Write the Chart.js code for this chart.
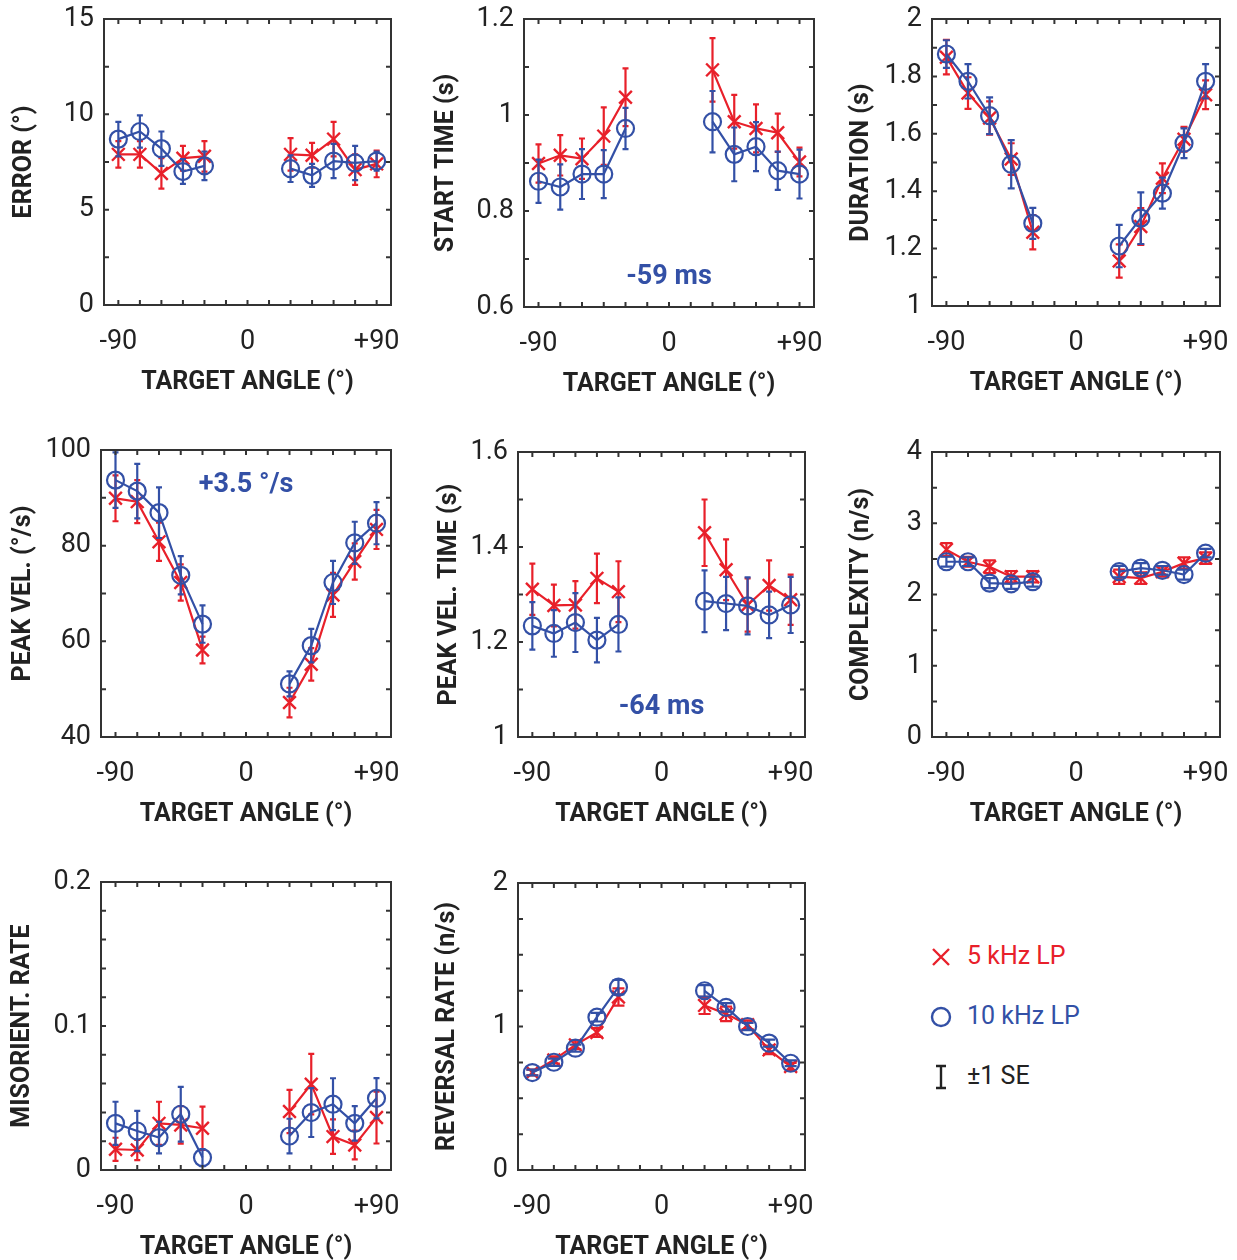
<!DOCTYPE html>
<html>
<head>
<meta charset="utf-8">
<script src="https://cdn.jsdelivr.net/npm/chart.js@4.4.1/dist/chart.umd.min.js"></script>
<style>
  body { margin: 0; background: #fff; width: 1237px; height: 1260px; position: relative; overflow: hidden; font-family: Roboto, sans-serif; }
  canvas { position: absolute; }
  .key { position: absolute; left: 928px; font-size: 25px; line-height: 30px; white-space: nowrap; }
  .key svg { position: absolute; left: 0; top: 3px; }
  .key span { position: absolute; left: 39px; top: 0; }
</style>
</head>
<body>

<div class="key" style="top:941px;color:#e8202a">
  <svg width="26" height="26"><path d="M5 5 L21 21 M21 5 L5 21" stroke="#e8202a" stroke-width="2.4"/></svg>
  <span>5 kHz LP</span>
</div>
<div class="key" style="top:1001px;color:#3350a6">
  <svg width="26" height="26"><circle cx="13" cy="13" r="9" fill="none" stroke="#3350a6" stroke-width="2.4"/></svg>
  <span>10 kHz LP</span>
</div>
<div class="key" style="top:1061px;color:#222">
  <svg width="26" height="26"><path d="M8 2 H18 M13 2 V24 M8 24 H18" stroke="#222" stroke-width="2.4"/></svg>
  <span>±1 SE</span>
</div>

<script>
// target angles (deg) and axis ticks
const ANGLES = [-90, -75, -60, -45, -30, 30, 45, 60, 75, 90];
const X_TICKS = [-90, -75, -60, -45, -30, -15, 0, 15, 30, 45, 60, 75, 90];
const X_LABELS = { '-90': '-90', '0': '0', '90': '+90' };

// ERROR (deg)
const errorRed = [7.9, 7.9, 6.9, 7.7, 7.8, 7.9, 7.85, 8.7, 7.1, 7.4];
const errorRedSE = [0.7, 0.7, 0.8, 0.65, 0.8, 0.85, 0.65, 0.9, 0.8, 0.7];
const errorBlue = [8.7, 9.1, 8.2, 7.0, 7.3, 7.15, 6.8, 7.55, 7.45, 7.55];
const errorBlueSE = [0.9, 0.85, 0.9, 0.65, 0.75, 0.7, 0.6, 0.9, 0.9, 0.5];

// START TIME (s)
const startRed = [0.899, 0.916, 0.909, 0.956, 1.037, 1.094, 0.986, 0.972, 0.963, 0.902];
const startRedSE = [0.04, 0.042, 0.042, 0.06, 0.06, 0.066, 0.056, 0.05, 0.04, 0.03];
const startBlue = [0.862, 0.850, 0.877, 0.877, 0.972, 0.986, 0.918, 0.934, 0.884, 0.877];
const startBlueSE = [0.045, 0.047, 0.052, 0.05, 0.043, 0.064, 0.056, 0.051, 0.04, 0.051];

// DURATION (s)
const durRed = [1.867, 1.742, 1.655, 1.512, 1.257, 1.157, 1.277, 1.445, 1.581, 1.736];
const durRedSE = [0.06, 0.055, 0.058, 0.055, 0.06, 0.058, 0.064, 0.052, 0.043, 0.05];
const durBlue = [1.878, 1.783, 1.663, 1.494, 1.288, 1.209, 1.306, 1.393, 1.567, 1.783];
const durBlueSE = [0.048, 0.06, 0.064, 0.084, 0.054, 0.074, 0.09, 0.054, 0.052, 0.06];

// PEAK VEL. (deg/s)
const velRed = [89.9, 89.2, 80.8, 72.3, 58.2, 47.2, 55.2, 69.7, 76.7, 83.4];
const velRedSE = [4.8, 4.5, 4, 3.8, 2.8, 3.1, 3.4, 4.6, 3.8, 4.1];
const velBlue = [93.7, 91.4, 86.9, 73.8, 63.6, 51.1, 59.1, 72.3, 80.6, 84.7];
const velBlueSE = [5.8, 5.7, 5.3, 4, 3.9, 2.6, 3.5, 4.5, 4.4, 4.4];

// PEAK VEL. TIME (s)
const pvtRed = [1.311, 1.277, 1.278, 1.334, 1.306, 1.430, 1.352, 1.278, 1.319, 1.289];
const pvtRedSE = [0.054, 0.044, 0.05, 0.052, 0.064, 0.07, 0.064, 0.056, 0.053, 0.053];
const pvtBlue = [1.234, 1.218, 1.241, 1.204, 1.237, 1.286, 1.281, 1.276, 1.257, 1.278];
const pvtBlueSE = [0.05, 0.049, 0.062, 0.047, 0.057, 0.065, 0.056, 0.06, 0.049, 0.059];

// COMPLEXITY (n/s)
const cxRed = [2.63, 2.46, 2.39, 2.25, 2.25, 2.25, 2.23, 2.32, 2.44, 2.51];
const cxRedSE = [0.09, 0.07, 0.09, 0.08, 0.08, 0.1, 0.08, 0.07, 0.08, 0.08];
const cxBlue = [2.46, 2.46, 2.16, 2.15, 2.18, 2.32, 2.37, 2.34, 2.28, 2.58];
const cxBlueSE = [0.07, 0.06, 0.07, 0.07, 0.07, 0.08, 0.07, 0.06, 0.07, 0.06];

// MISORIENT. RATE
const misRed = [0.0144, 0.0139, 0.0324, 0.0313, 0.029, 0.0406, 0.0596, 0.0232, 0.0174, 0.0364];
const misRedSE = [0.008, 0.007, 0.015, 0.013, 0.015, 0.015, 0.021, 0.012, 0.01, 0.018];
const misBlue = [0.0324, 0.0271, 0.0225, 0.0387, 0.0086, 0.0236, 0.0399, 0.0457, 0.0324, 0.0498];
const misBlueSE = [0.015, 0.014, 0.011, 0.019, 0.006, 0.012, 0.017, 0.018, 0.012, 0.014];

// REVERSAL RATE (n/s)
const revRed = [0.679, 0.767, 0.872, 0.958, 1.205, 1.147, 1.088, 1.012, 0.837, 0.721];
const revRedSE = [0.02, 0.025, 0.03, 0.03, 0.06, 0.06, 0.05, 0.03, 0.03, 0.025];
const revBlue = [0.679, 0.751, 0.849, 1.065, 1.274, 1.249, 1.133, 1.0, 0.884, 0.744];
const revBlueSE = [0.02, 0.025, 0.025, 0.03, 0.05, 0.04, 0.03, 0.025, 0.025, 0.02];

const RED = '#e8202a';
const BLUE = '#3350a6';
const INK = '#222';

// one entry per panel: values, y range and where the plot box sits on the page
const panels = [
  { title: 'ERROR (°)', red: errorRed, redSE: errorRedSE, blue: errorBlue, blueSE: errorBlueSE,
    min: 0, max: 15, step: 2.5, major: 5, box: [104, 19, 287, 286], tpad: 6, cap: 3 },
  { title: 'START TIME (s)', red: startRed, redSE: startRedSE, blue: startBlue, blueSE: startBlueSE,
    min: 0.6, max: 1.2, step: 0.1, major: 0.2, box: [524, 19, 290, 288], tpad: 8, cap: 3,
    note: { text: '-59 ms', x: 0, y: 0.663 } },
  { title: 'DURATION (s)', red: durRed, redSE: durRedSE, blue: durBlue, blueSE: durBlueSE,
    min: 1, max: 2, step: 0.1, major: 0.2, box: [932, 19, 288, 287], tpad: 15, cap: 3.5 },
  { title: 'PEAK VEL. (°/s)', red: velRed, redSE: velRedSE, blue: velBlue, blueSE: velBlueSE,
    min: 40, max: 100, step: 10, major: 20, box: [101, 450, 290, 287], tpad: 8, cap: 3,
    note: { text: '+3.5 °/s', x: 0, y: 92.7 } },
  { title: 'PEAK VEL. TIME (s)', red: pvtRed, redSE: pvtRedSE, blue: pvtBlue, blueSE: pvtBlueSE,
    min: 1, max: 1.6, step: 0.1, major: 0.2, box: [518, 452, 287, 285], tpad: 17, cap: 3,
    note: { text: '-64 ms', x: 0, y: 1.063 } },
  { title: 'COMPLEXITY (n/s)', red: cxRed, redSE: cxRedSE, blue: cxBlue, blueSE: cxBlueSE,
    min: 0, max: 4, step: 0.5, major: 1, box: [932, 452, 288, 285], tpad: 15, cap: 6 },
  { title: 'MISORIENT. RATE', red: misRed, redSE: misRedSE, blue: misBlue, blueSE: misBlueSE,
    min: 0, max: 0.2, step: 0.02, major: 0.1, box: [101, 882, 290, 288], tpad: 7, cap: 3 },
  { title: 'REVERSAL RATE (n/s)', red: revRed, redSE: revRedSE, blue: revBlue, blueSE: revBlueSE,
    min: 0, max: 2, step: 0.25, major: 1, box: [518, 883, 287, 287], tpad: 15, cap: 6 }
];

// error bars drawn right after each dataset so the later series sits on top
const errorBars = {
  id: 'errorBars',
  afterDatasetDraw(chart, args) {
    const ds = chart.data.datasets[args.index];
    const x = chart.scales.x, y = chart.scales.y;
    const cap = chart.options.plugins.errorBars.cap;
    const ctx = chart.ctx;
    ctx.save();
    ctx.strokeStyle = ds.borderColor;
    ctx.lineWidth = 2.2;
    ctx.beginPath();
    ds.data.forEach(p => {
      if (p.y == null) return;
      const px = x.getPixelForValue(p.x);
      const lo = y.getPixelForValue(p.y - p.se);
      const hi = y.getPixelForValue(p.y + p.se);
      ctx.moveTo(px, lo); ctx.lineTo(px, hi);
      ctx.moveTo(px - cap, lo); ctx.lineTo(px + cap, lo);
      ctx.moveTo(px - cap, hi); ctx.lineTo(px + cap, hi);
    });
    ctx.stroke();
    ctx.restore();
  }
};

// box around the plot with inward ticks on all four sides, plus the blue note
const frame = {
  id: 'frame',
  afterDraw(chart) {
    const { ctx, chartArea: a } = chart;
    const x = chart.scales.x, y = chart.scales.y;
    ctx.save();
    ctx.strokeStyle = '#333';
    ctx.lineWidth = 2;
    ctx.strokeRect(a.left, a.top, a.right - a.left, a.bottom - a.top);
    ctx.beginPath();
    x.ticks.forEach(t => {
      const px = x.getPixelForValue(t.value);
      ctx.moveTo(px, a.bottom); ctx.lineTo(px, a.bottom - 5);
      ctx.moveTo(px, a.top); ctx.lineTo(px, a.top + 5);
    });
    y.ticks.forEach(t => {
      const py = y.getPixelForValue(t.value);
      ctx.moveTo(a.left, py); ctx.lineTo(a.left + 5, py);
      ctx.moveTo(a.right, py); ctx.lineTo(a.right - 5, py);
    });
    ctx.stroke();
    const note = chart.options.plugins.frame.note;
    if (note) {
      ctx.fillStyle = BLUE;
      ctx.font = 'bold 27px Roboto';
      ctx.textAlign = 'center';
      ctx.textBaseline = 'middle';
      ctx.fillText(note.text, x.getPixelForValue(note.x), y.getPixelForValue(note.y));
    }
    ctx.restore();
  }
};

function points(values, se) {
  const pts = ANGLES.map((a, i) => ({ x: a, y: values[i], se: se[i] }));
  pts.splice(5, 0, { x: 0, y: null, se: 0 }); // break the line across the gap
  return pts;
}

function fmt(v) {
  return String(+v.toFixed(3));
}

panels.forEach(p => {
  const [l, t, w, h] = p.box;
  const cv = document.createElement('canvas');
  cv.width = w + 120;
  cv.height = h + 120;
  cv.style.left = (l - 100) + 'px';
  cv.style.top = (t - 20) + 'px';
  document.body.appendChild(cv);

  const yTicks = [];
  for (let v = p.min; v <= p.max + 1e-9; v += p.step) yTicks.push(+v.toFixed(4));

  new Chart(cv, {
    type: 'line',
    data: {
      datasets: [
        { data: points(p.blue, p.blueSE), borderColor: BLUE, borderWidth: 2.2,
          pointStyle: 'circle', pointRadius: 8.5, pointBorderWidth: 2.2,
          pointBorderColor: BLUE, pointBackgroundColor: 'rgba(0,0,0,0)', spanGaps: false },
        { data: points(p.red, p.redSE), borderColor: RED, borderWidth: 2.2,
          pointStyle: 'crossRot', pointRadius: 9, pointBorderWidth: 2.4,
          pointBorderColor: RED, spanGaps: false }
      ]
    },
    options: {
      responsive: false,
      animation: false,
      events: [],
      layout: { padding: { top: 20, right: 20, left: 0, bottom: 0 } },
      plugins: {
        legend: { display: false },
        tooltip: { enabled: false },
        errorBars: { cap: p.cap },
        frame: { note: p.note }
      },
      scales: {
        x: {
          type: 'linear', min: -100, max: 100,
          afterBuildTicks: s => { s.ticks = X_TICKS.map(v => ({ value: v })); },
          afterFit: s => { s.height = 100; s.paddingLeft = 0; s.paddingRight = 0; },
          grid: { display: false, drawTicks: false },
          border: { display: false },
          ticks: { autoSkip: false, maxRotation: 0, padding: 21, color: INK,
                   font: { family: 'Roboto', size: 27 },
                   callback: v => X_LABELS[String(v)] || '' },
          title: { display: true, text: 'TARGET ANGLE (°)', color: INK,
                   font: { family: 'Roboto', size: 25, weight: 'bold' },
                   padding: { top: 0, bottom: 7 } }
        },
        y: {
          min: p.min, max: p.max,
          afterBuildTicks: s => { s.ticks = yTicks.map(v => ({ value: v })); },
          afterFit: s => { s.width = 100; s.paddingTop = 0; s.paddingBottom = 0; },
          grid: { display: false, drawTicks: false },
          border: { display: false },
          ticks: { autoSkip: false, padding: 10, color: INK,
                   font: { family: 'Roboto', size: 27 },
                   callback: v => {
                     const r = v / p.major;
                     return Math.abs(r - Math.round(r)) < 1e-6 ? fmt(v) : '';
                   } },
          title: { display: true, text: p.title, color: INK,
                   font: { family: 'Roboto', size: 25, weight: 'bold' },
                   padding: { top: p.tpad, bottom: 0 } }
        }
      }
    },
    plugins: [errorBars, frame]
  });
});
</script>
</body>
</html>
